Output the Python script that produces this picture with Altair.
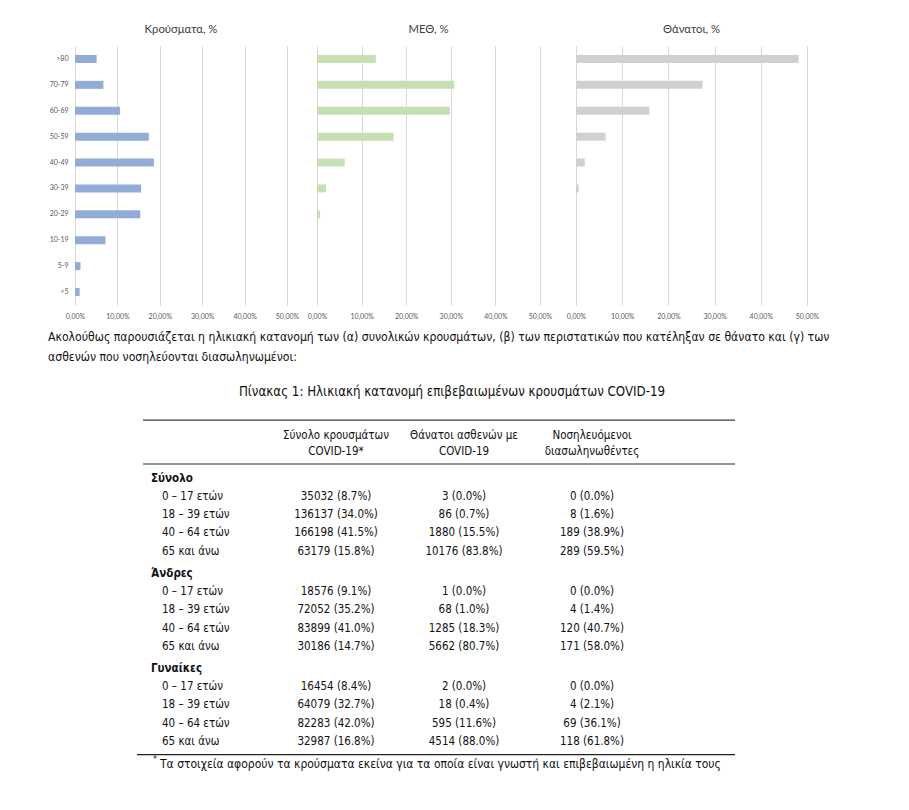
import altair as alt
import pandas as pd

# ---------------- data ----------------
ages = [">80", "70-79", "60-69", "50-59", "40-49", "30-39", "20-29", "10-19", "5-9", "<5"]
cases_pct = [5.1, 6.7, 10.6, 17.4, 18.6, 15.6, 15.4, 7.2, 1.3, 1.1]
icu_pct = [13.2, 30.8, 29.8, 17.2, 6.2, 2.0, 0.7, 0.15, 0.0, 0.05]
deaths_pct = [48.2, 27.4, 15.9, 6.4, 1.9, 0.6, 0.0, 0.0, 0.0, 0.0]
panel_titles = ["Κρούσματα, %", "ΜΕΘ, %", "Θάνατοι, %"]
x_ticks = [0, 0.1, 0.2, 0.3, 0.4, 0.5]

paragraph = [
    "Ακολούθως παρουσιάζεται η ηλικιακή κατανομή των (α) συνολικών κρουσμάτων, (β) των περιστατικών που κατέληξαν σε θάνατο και (γ) των",
    "ασθενών που νοσηλεύονται διασωληνωμένοι:",
]
table_title = "Πίνακας 1: Ηλικιακή κατανομή επιβεβαιωμένων κρουσμάτων COVID-19"
col_headers = [
    ["Σύνολο κρουσμάτων", "COVID-19*"],
    ["Θάνατοι ασθενών με", "COVID-19"],
    ["Νοσηλευόμενοι", "διασωληνωθέντες"],
]
groups = ["Σύνολο", "Άνδρες", "Γυναίκες"]
age_bands = ["0 – 17 ετών", "18 – 39 ετών", "40 – 64 ετών", "65 και άνω"]
col_cases = [
    ["35032 (8.7%)", "136137 (34.0%)", "166198 (41.5%)", "63179 (15.8%)"],
    ["18576 (9.1%)", "72052 (35.2%)", "83899 (41.0%)", "30186 (14.7%)"],
    ["16454 (8.4%)", "64079 (32.7%)", "82283 (42.0%)", "32987 (16.8%)"],
]
col_deaths = [
    ["3 (0.0%)", "86 (0.7%)", "1880 (15.5%)", "10176 (83.8%)"],
    ["1 (0.0%)", "68 (1.0%)", "1285 (18.3%)", "5662 (80.7%)"],
    ["2 (0.0%)", "18 (0.4%)", "595 (11.6%)", "4514 (88.0%)"],
]
col_icu = [
    ["0 (0.0%)", "8 (1.6%)", "189 (38.9%)", "289 (59.5%)"],
    ["0 (0.0%)", "4 (1.4%)", "120 (40.7%)", "171 (58.0%)"],
    ["0 (0.0%)", "4 (2.1%)", "69 (36.1%)", "118 (61.8%)"],
]
footnote = "Τα στοιχεία αφορούν τα κρούσματα εκείνα για τα οποία είναι γνωστή και επιβεβαιωμένη η ηλικία τους"

# ---------------- bar panels ----------------
CHART_FONT = "Lato"
label_expr = "replace(format(datum.value, '.2%'), '.', ',')"


def panel(vals, title, color, width, show_y):
    df = pd.DataFrame({"age": ages, "pct": [v / 100 for v in vals]})
    return (
        alt.Chart(df)
        .mark_bar(color=color, size=8)
        .encode(
            x=alt.X(
                "pct:Q",
                scale=alt.Scale(domain=[0, 0.5], nice=False),
                axis=alt.Axis(
                    title=None, values=x_ticks, labelExpr=label_expr, domain=False,
                    ticks=False, grid=True, gridColor="#d9d9d9", labelFontSize=7,
                    labelColor="#595959", labelPadding=7, labelFont=CHART_FONT,
                    labelFlush=False,
                ),
            ),
            y=alt.Y(
                "age:N", sort=ages,
                scale=alt.Scale(paddingInner=0.0, paddingOuter=0.0),
                axis=alt.Axis(
                    title=None, domain=False, ticks=False, grid=False, labels=show_y,
                    labelFontSize=7, labelColor="#595959", labelPadding=7,
                    labelFont=CHART_FONT,
                ),
            ),
            tooltip=["age:N", "pct:Q"],
        )
        .properties(
            width=width, height=259,
            title=alt.TitleParams(title, fontSize=11.3, fontWeight="normal", color="#404040",
                                  font=CHART_FONT, offset=11),
        )
    )


p1 = panel(cases_pct, panel_titles[0], "#92acd6", 212, True)
p2 = panel(icu_pct, panel_titles[1], "#c6e0b4", 223, False)
p3 = panel(deaths_pct, panel_titles[2], "#d0d0d0", 231, False)
top = alt.hconcat(alt.hconcat(p1, p2, spacing=8), p3, spacing=14)

# ---------------- lower text + table ----------------
ROW_PX = 18.3
Y_DOMAIN = [-5.2, 19.3]
LOW_W = 780
LOW_H = round((Y_DOMAIN[1] - Y_DOMAIN[0]) * ROW_PX)
yscale = alt.Scale(domain=Y_DOMAIN, reverse=True, nice=False, zero=False)
NFONT = "'Liberation Sans Narrow', 'DejaVu Sans Condensed', 'Roboto', sans-serif"

# build table rows
grp_rows, age_rows, val_rows = [], [], []
pos = 3.2
for gi, g in enumerate(groups):
    if gi > 0:
        pos += 0.2
    grp_rows.append({"text": g, "row": pos})
    pos += 1
    for ai, a in enumerate(age_bands):
        age_rows.append({"text": a, "row": pos})
        val_rows.append({"text": col_cases[gi][ai], "row": pos, "col": 1})
        val_rows.append({"text": col_deaths[gi][ai], "row": pos, "col": 2})
        val_rows.append({"text": col_icu[gi][ai], "row": pos, "col": 3})
        pos += 1
hdr_rows = []
for ci, h in enumerate(col_headers):
    for li, line in enumerate(h):
        hdr_rows.append({"text": line, "row": 0.87 + 0.88 * li, "col": ci + 1})

col_scale = alt.Scale(domain=[1, 3], range=[261, 517], nice=False, zero=False)
Y = lambda: alt.Y("row:Q", scale=yscale, axis=None)
XC = lambda: alt.X("col:Q", scale=col_scale, axis=None)

base_txt = dict(fontSize=11.5, font=NFONT, color="#111111", baseline="middle")

grp_layer = alt.Chart(pd.DataFrame(grp_rows)).mark_text(
    align="left", fontWeight="bold", **base_txt).encode(x=alt.value(76), y=Y(), text="text:N")
age_layer = alt.Chart(pd.DataFrame(age_rows)).mark_text(
    align="left", **base_txt).encode(x=alt.value(87), y=Y(), text="text:N")
val_layer = alt.Chart(pd.DataFrame(val_rows)).mark_text(
    align="center", **base_txt).encode(x=XC(), y=Y(), text="text:N")
hdr_layer = alt.Chart(pd.DataFrame(hdr_rows)).mark_text(
    align="center", **base_txt).encode(x=XC(), y=Y(), text="text:N")

para_df = pd.DataFrame({"text": paragraph, "row": [-4.54, -3.45]})
para_layer = alt.Chart(para_df).mark_text(
    align="left", baseline="middle", fontSize=12.15, font=NFONT, color="#111111").encode(
    x=alt.value(-27), y=Y(), text="text:N")

title_df = pd.DataFrame({"text": [table_title], "row": [-1.53]})
title_layer = alt.Chart(title_df).mark_text(
    align="center", baseline="middle", fontSize=13.2, font=NFONT, color="#111111").encode(
    x=alt.value(377), y=Y(), text="text:N")

foot_df = pd.DataFrame({"text": [footnote], "row": [18.8]})
foot_layer = alt.Chart(foot_df).mark_text(
    align="left", baseline="middle", fontSize=12.0, font=NFONT, color="#111111").encode(
    x=alt.value(85), y=Y(), text="text:N")
star_layer = alt.Chart(pd.DataFrame({"text": ["*"], "row": [18.55]})).mark_text(
    align="left", baseline="middle", fontSize=9, font=NFONT, color="#111111").encode(
    x=alt.value(78), y=Y(), text="text:N")

rule_df = pd.DataFrame({"row": [0.0, 2.4]})
rules_gray = alt.Chart(rule_df).mark_rule(color="#707070", strokeWidth=1.6).encode(
    y=Y(), x=alt.value(68), x2=alt.value(660))
rule_bottom = alt.Chart(pd.DataFrame({"row": [18.3]})).mark_rule(
    color="#222222", strokeWidth=1.2).encode(y=Y(), x=alt.value(62), x2=alt.value(660))

lower = alt.layer(
    rules_gray, rule_bottom, para_layer, title_layer, hdr_layer,
    grp_layer, age_layer, val_layer, foot_layer, star_layer,
).properties(width=LOW_W, height=LOW_H)

chart = alt.vconcat(top, lower, spacing=6).properties(
    padding={"left": 40, "top": 15, "right": 0, "bottom": 0}
).configure_view(stroke=None)

chart.save("out.html", embed_options={"renderer": "svg", "actions": False})
